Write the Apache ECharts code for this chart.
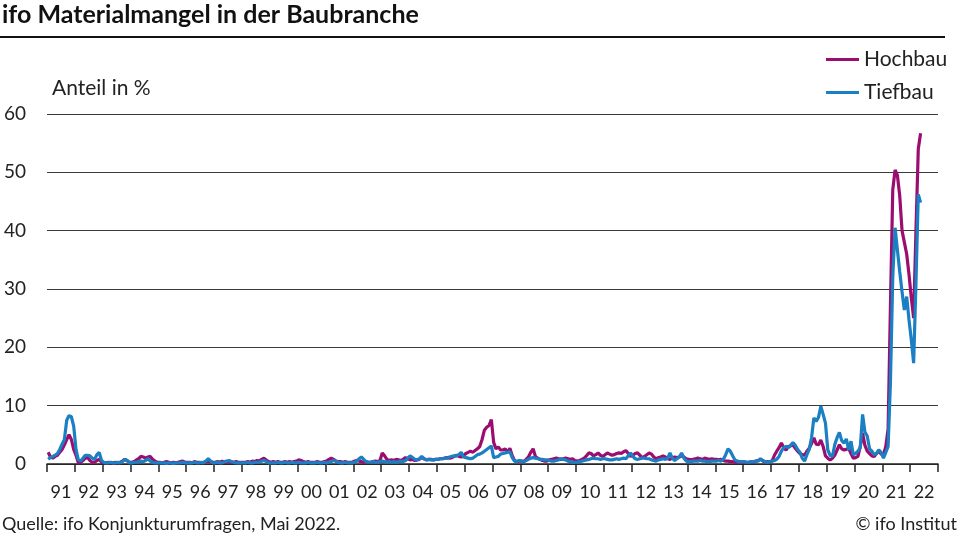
<!DOCTYPE html>
<html>
<head>
<meta charset="utf-8">
<script src="https://cdn.jsdelivr.net/npm/echarts@6/dist/echarts.min.js"></script>
<style>
html,body{margin:0;padding:0;background:#fff;}
#chart{width:960px;height:540px;}
</style>
</head>
<body>
<div id="chart"></div>
<script>
// Monthly shares in %, starting January 1991, ending May 2022
const startYear = 1991;
const yearLabels = ['91','92','93','94','95','96','97','98','99','00','01','02','03','04','05','06','07','08','09','10','11','12','13','14','15','16','17','18','19','20','21','22'];
const hochbau = [
  2.0,1.2,1.0,1.3,1.5,2.0,2.5,3.3,4.2,5.0,4.2,2.5, // 1991
  1.5,0.2,0.3,0.6,1.0,1.1,0.6,0.3,0.3,0.6,0.8,0.3, // 1992
  0.2,0.2,0.3,0.2,0.2,0.3,0.2,0.3,0.5,0.8,0.6,0.3, // 1993
  0.3,0.4,0.7,0.9,1.3,1.2,1.0,1.2,1.3,0.8,0.5,0.3, // 1994
  0.3,0.2,0.3,0.4,0.3,0.2,0.3,0.2,0.3,0.4,0.5,0.3, // 1995
  0.3,0.3,0.2,0.4,0.3,0.3,0.2,0.3,0.4,0.5,0.4,0.3, // 1996
  0.3,0.4,0.3,0.5,0.3,0.3,0.4,0.3,0.3,0.4,0.3,0.3, // 1997
  0.3,0.3,0.4,0.3,0.5,0.4,0.6,0.5,0.8,1.0,0.7,0.4, // 1998
  0.3,0.4,0.3,0.4,0.3,0.3,0.4,0.3,0.4,0.3,0.4,0.5, // 1999
  0.7,0.6,0.4,0.3,0.4,0.3,0.3,0.3,0.4,0.3,0.3,0.4, // 2000
  0.5,0.8,1.0,0.8,0.5,0.4,0.4,0.3,0.4,0.3,0.3,0.3, // 2001
  0.5,0.6,0.5,0.4,0.3,0.4,0.3,0.3,0.4,0.5,0.4,0.6, // 2002
  1.9,1.4,0.8,0.6,0.7,0.6,0.8,0.7,0.6,0.8,1.1,0.9, // 2003
  0.7,0.8,0.6,0.7,0.8,1.1,0.9,0.7,0.8,0.8,0.7,0.8, // 2004
  0.8,0.9,0.9,1.0,1.1,1.0,1.1,1.3,1.5,1.3,1.2,1.4, // 2005
  1.8,2.0,2.2,2.0,2.3,2.6,3.0,4.2,5.8,6.3,6.6,7.6, // 2006
  3.7,2.6,2.9,2.4,2.4,2.6,2.0,2.7,1.4,0.6,0.4,0.5, // 2007
  0.5,0.4,0.8,1.2,2.0,2.6,1.3,1.0,0.8,0.6,0.5,0.5, // 2008
  0.7,0.8,0.9,1.0,0.9,0.8,0.9,1.0,0.9,0.8,0.9,0.6, // 2009
  0.5,0.6,0.8,1.0,1.4,1.9,1.8,1.4,1.6,1.9,1.5,1.3, // 2010
  1.6,1.9,1.7,1.5,1.6,1.8,1.9,1.8,2.1,2.3,1.8,1.3, // 2011
  1.5,1.8,1.9,1.5,1.1,1.3,1.6,1.9,1.7,1.2,0.9,1.1, // 2012
  1.2,1.4,1.2,0.9,0.8,1.0,1.2,1.1,1.2,1.4,1.2,0.9, // 2013
  0.8,0.7,0.8,0.9,1.0,0.9,0.8,1.0,0.9,0.8,0.9,0.8, // 2014
  0.8,0.7,0.8,0.6,0.5,0.5,0.4,0.4,0.3,0.3,0.4,0.3, // 2015
  0.3,0.3,0.3,0.4,0.3,0.5,0.6,0.8,0.5,0.4,0.4,0.4, // 2016
  0.5,1.5,2.2,2.8,3.6,2.8,2.4,3.0,3.1,3.3,2.7,2.2, // 2017
  1.8,1.6,1.5,2.2,2.7,3.5,4.5,3.4,3.3,4.1,3.0,1.4, // 2018
  1.0,0.7,1.0,1.5,2.4,3.3,2.6,2.4,2.5,2.7,1.8,1.0, // 2019
  1.1,1.3,3.0,5.3,3.2,2.2,1.8,1.4,1.3,1.8,2.2,1.7, // 2020
  1.6,3.0,6.0,27.0,47.0,50.4,49.5,46.0,40.0,38.0,36.0,32.5, // 2021
  28.5,25.0,40.0,54.0,56.7 // 2022
];
const tiefbau = [
  0.8,1.1,1.3,1.5,1.8,2.5,3.4,4.2,7.5,8.3,8.1,6.5, // 1991
  2.5,0.7,0.5,1.0,1.5,1.5,1.4,1.0,0.8,1.6,2.0,0.6, // 1992
  0.3,0.2,0.2,0.3,0.2,0.2,0.3,0.2,0.4,0.8,0.6,0.2, // 1993
  0.2,0.3,0.3,0.4,0.5,0.4,0.6,0.9,0.5,0.3,0.2,0.2, // 1994
  0.2,0.2,0.2,0.1,0.2,0.2,0.1,0.2,0.2,0.2,0.3,0.2, // 1995
  0.2,0.2,0.2,0.3,0.2,0.2,0.3,0.2,0.5,0.9,0.5,0.2, // 1996
  0.2,0.3,0.2,0.2,0.4,0.5,0.6,0.4,0.3,0.2,0.2,0.2, // 1997
  0.2,0.2,0.3,0.2,0.2,0.3,0.3,0.3,0.5,0.6,0.4,0.2, // 1998
  0.2,0.2,0.2,0.3,0.2,0.2,0.3,0.2,0.2,0.3,0.2,0.2, // 1999
  0.3,0.2,0.2,0.2,0.3,0.2,0.2,0.2,0.3,0.2,0.2,0.3, // 2000
  0.2,0.3,0.4,0.6,0.5,0.3,0.2,0.2,0.3,0.2,0.2,0.2, // 2001
  0.3,0.5,0.9,1.2,0.8,0.4,0.3,0.3,0.4,0.3,0.3,0.4, // 2002
  0.5,0.4,0.3,0.4,0.3,0.4,0.3,0.4,0.5,0.4,0.6,1.0, // 2003
  1.4,1.1,0.8,0.7,0.9,1.3,0.9,0.7,0.8,0.7,0.7,0.8, // 2004
  0.8,0.9,0.9,1.0,1.0,1.2,1.3,1.4,1.4,1.6,2.0,1.2, // 2005
  1.1,1.0,0.9,1.0,1.3,1.6,1.7,1.9,2.2,2.5,2.8,3.1, // 2006
  1.1,1.2,1.3,1.7,1.8,1.9,2.0,2.1,1.1,0.5,0.4,0.6, // 2007
  0.5,0.4,0.6,0.8,1.0,1.1,1.0,0.9,0.8,0.8,0.7,0.7, // 2008
  0.6,0.5,0.5,0.6,0.7,0.9,0.8,0.7,0.5,0.4,0.3,0.3, // 2009
  0.3,0.4,0.5,0.6,0.7,0.8,0.9,1.0,0.9,0.9,0.8,0.9, // 2010
  0.9,0.8,0.7,0.7,0.8,0.9,0.8,0.9,1.0,0.9,1.4,1.9, // 2011
  1.3,0.9,0.8,0.9,1.0,1.0,0.9,0.9,0.7,0.6,0.5,0.7, // 2012
  0.8,0.9,0.8,1.0,1.9,1.0,0.6,0.9,1.2,1.9,1.0,0.5, // 2013
  0.4,0.4,0.5,0.5,0.5,0.6,0.5,0.5,0.4,0.4,0.5,0.5, // 2014
  0.5,0.6,0.5,0.8,1.6,2.6,2.2,1.4,0.7,0.5,0.4,0.4, // 2015
  0.4,0.3,0.3,0.4,0.4,0.5,0.5,0.9,0.6,0.4,0.3,0.4, // 2016
  0.5,0.6,0.8,1.3,2.2,2.8,3.0,2.8,3.2,3.7,3.2,2.5, // 2017
  2.0,1.0,0.5,1.6,2.5,4.5,7.9,7.3,8.0,9.9,8.5,7.0, // 2018
  2.4,1.5,1.3,3.3,4.5,5.4,4.0,3.6,4.3,2.4,3.9,1.6, // 2019
  1.8,2.2,2.8,8.5,5.5,4.8,2.6,2.2,1.6,1.8,2.4,2.0, // 2020
  1.0,2.0,3.0,14.0,32.0,40.5,36.7,33.0,29.5,26.4,28.7,24.7, // 2021
  21.3,17.3,31.0,46.2,44.8 // 2022
];
const yTicks = {min: 0, max: 60, step: 10};

const toPoints = arr => arr.map((v, i) => [startYear + i / 12 + 1 / 24, v]);

const FONT = 'Lato, "Noto Sans", sans-serif';
const chart = echarts.init(document.getElementById('chart'));
chart.setOption({
  backgroundColor: '#fff',
  animation: false,
  textStyle: {fontFamily: FONT},
  title: {
    text: 'ifo Materialmangel in der Baubranche',
    left: 0, top: 2, padding: [0, 0, 0, 2],
    textStyle: {fontFamily: FONT, fontWeight: 'bold', fontSize: 25, color: '#111'}
  },
  legend: {
    data: ['Hochbau', 'Tiefbau'],
    orient: 'vertical',
    left: 826, top: 49,
    padding: 0,
    icon: 'rect',
    itemWidth: 33, itemHeight: 3,
    itemGap: 12,
    textStyle: {fontFamily: FONT, fontSize: 21, color: '#222'}
  },
  grid: {left: 47, right: 22, top: 114, bottom: 76},
  xAxis: [
    {
      type: 'category',
      data: yearLabels,
      boundaryGap: true,
      axisLine: {lineStyle: {color: '#222', width: 1.5}},
      axisTick: {show: true, length: 8, interval: 0, lineStyle: {color: '#222', width: 1.5}},
      axisLabel: {interval: 0, fontSize: 18, color: '#222', margin: 19, fontFamily: FONT},
      splitLine: {show: false}
    },
    {
      type: 'value',
      min: startYear,
      max: startYear + yearLabels.length,
      show: false
    }
  ],
  yAxis: {
    type: 'value',
    min: yTicks.min, max: yTicks.max, interval: yTicks.step,
    axisLine: {show: false},
    axisTick: {show: false},
    axisLabel: {fontSize: 19, color: '#222', margin: 21, fontFamily: FONT},
    splitLine: {lineStyle: {color: '#3a3a3a', width: 1.2}}
  },
  graphic: [
    {type: 'rect', shape: {x: 0, y: 36, width: 945, height: 2}, style: {fill: '#111'}},
    {type: 'text', left: 52, top: 78, style: {text: 'Anteil in %', fontSize: 21, fill: '#222', fontFamily: FONT}},
    {type: 'text', left: 2, top: 515, style: {text: 'Quelle: ifo Konjunkturumfragen, Mai 2022.', fontSize: 18, fill: '#222', fontFamily: FONT}},
    {type: 'text', right: 3, top: 515, style: {text: '© ifo Institut', fontSize: 18, fill: '#222', fontFamily: FONT}}
  ],
  series: [
    {
      name: 'Hochbau', type: 'line', xAxisIndex: 1,
      data: toPoints(hochbau),
      showSymbol: false, symbol: 'none',
      lineStyle: {color: '#9b0e6f', width: 3.2},
      itemStyle: {color: '#9b0e6f'}
    },
    {
      name: 'Tiefbau', type: 'line', xAxisIndex: 1,
      data: toPoints(tiefbau),
      showSymbol: false, symbol: 'none',
      lineStyle: {color: '#1a7fc3', width: 3.2},
      itemStyle: {color: '#1a7fc3'}
    }
  ]
});
</script>
</body>
</html>
